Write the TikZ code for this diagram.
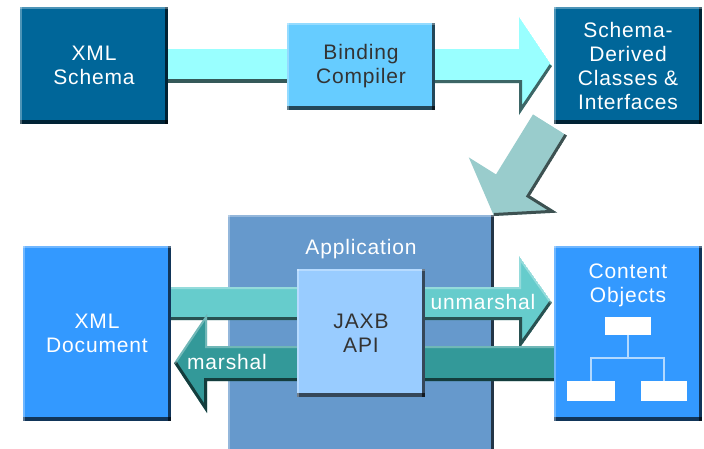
\documentclass[tikz,border=0pt]{standalone}
\usepackage{fontspec}
\setmainfont{Liberation Sans}[LetterSpace=4]
\usetikzlibrary{calc}
\definecolor{dkblue}{HTML}{006699}
\definecolor{bcblue}{HTML}{66CCFF}
\definecolor{appblue}{HTML}{6699CC}
\definecolor{apiblue}{HTML}{99CCFF}
\definecolor{docblue}{HTML}{3399FF}
\definecolor{cyanA}{HTML}{99FFFF}
\definecolor{diagC}{HTML}{99CCCC}
\definecolor{unmC}{HTML}{66CCCC}
\definecolor{marC}{HTML}{339999}
\definecolor{darktext}{HTML}{333333}
\definecolor{treeline}{HTML}{B3D9FF}
\pgfdeclarelayer{lbg}
\pgfdeclarelayer{lzero}
\pgfdeclarelayer{lone}
\pgfdeclarelayer{ltwo}
\pgfsetlayers{lbg,lzero,lone,ltwo,main}
\newcommand\fsz{\fontsize{21}{24}\selectfont}
\tikzset{
  box/.style={rectangle, inner sep=0pt, align=center, font=\fsz, text=white,
    path picture={
      \fill[black,opacity=.65] ([yshift=4pt]path picture bounding box.south west) rectangle (path picture bounding box.south east);
      \fill[black,opacity=.65] ([xshift=-3pt]path picture bounding box.south east) rectangle (path picture bounding box.north east);
      \fill[white,opacity=.3] (path picture bounding box.north west) rectangle ([yshift=-2pt]path picture bounding box.north east);
      \fill[white,opacity=.3] (path picture bounding box.north west) rectangle ([xshift=2pt]path picture bounding box.south west);
    }},
  lab/.style={inner sep=0pt, font=\fsz, text=white},
  shadowline/.style={line width=6pt, black, opacity=.6, line join=miter},
  lightline/.style={line width=4pt, white, opacity=.3},
  treebox/.style={rectangle, fill=white, inner sep=0pt},
  treel/.style={treeline, line width=2pt}
}
\begin{document}
\begin{tikzpicture}[x=1pt,y=-1pt]
\begin{pgfonlayer}{lbg}
\fill[white] (0,0) rectangle (704,448);
\end{pgfonlayer}
\useasboundingbox (0,0) rectangle (704,448);

% top row boxes
\node[box, fill=dkblue, minimum width=148pt, minimum height=117pt] (xs) at (94,65.5) {XML\\Schema};
\node[box, fill=bcblue, text=darktext, minimum width=148pt, minimum height=87pt] (bc) at (361,66.5) {Binding\\Compiler};
\node[box, fill=dkblue, minimum width=148pt, minimum height=117pt] (sd) at (628,65.5) {Schema-\\Derived\\Classes \&\\Interfaces};

% application container
\begin{pgfonlayer}{lone}
\node[box, fill=appblue, minimum width=266pt, minimum height=240pt] (app) at (361,335) {};
\end{pgfonlayer}
\node[lab] (applab) at (361,249) {Application};

\node[box, fill=apiblue, text=darktext, minimum width=128pt, minimum height=128pt] (api) at (361,333) {JAXB\\API};
\node[box, fill=docblue, minimum width=148pt, minimum height=175pt] (xd) at (97,333.5) {XML\\Document};
\node[box, fill=docblue, minimum width=148pt, minimum height=175pt] (co) at (628,333.5) {};
\node[lab, align=center, text=white, font=\fsz] (colab) at (628,285) {Content\\Objects};

% tree inside content objects
\node[treebox, minimum width=46pt, minimum height=18pt] (t0) at (628,326) {};
\node[treebox, minimum width=48pt, minimum height=20pt] (t1) at (591,391) {};
\node[treebox, minimum width=46pt, minimum height=20pt] (t2) at (664,391) {};
\draw[treel] (t0.south) -- ++(0,23) -| (t1.north);
\draw[treel] (t0.south) -- ++(0,23) -| (t2.north);

% top arrows
\begin{pgfonlayer}{ltwo}
\fill[cyanA] (xs.east |- 0,49) rectangle (bc.west |- 0,83);
\fill[black,opacity=.65] (xs.east |- 0,79) rectangle (bc.west |- 0,83);
\begin{scope}
\clip (bc.east |- 0,49) -- (519,49) -- (519,17) -- (552,66) -- (519,115) -- (519,83) -- (bc.east |- 0,83) -- cycle;
\fill[cyanA] (bc.east |- 0,49) -- (519,49) -- (519,17) -- (552,66) -- (519,115) -- (519,83) -- (bc.east |- 0,83) -- cycle;
\draw[shadowline] (bc.east |- 0,83) -- (519,83) -- (519,115) -- (552,66);
\end{scope}

% unmarshal arrow
\begin{scope}
\clip (xd.east |- 0,287) -- (519,287) -- (519,256) -- (552,302.5) -- (519,349) -- (519,320) -- (xd.east |- 0,320) -- cycle;
\fill[unmC] (xd.east |- 0,287) -- (519,287) -- (519,256) -- (552,302.5) -- (519,349) -- (519,320) -- (xd.east |- 0,320) -- cycle;
\draw[shadowline] (xd.east |- 0,320) -- (519,320) -- (519,349) -- (552,302.5);
\draw[lightline] (xd.east |- 0,287) -- (519,287) -- (519,256) -- (552,302.5);
\end{scope}

% marshal arrow
\begin{scope}
\clip (co.west |- 0,346) -- (207,346) -- (207,314) -- (174,363) -- (207,413) -- (207,381) -- (co.west |- 0,381) -- cycle;
\fill[marC] (co.west |- 0,346) -- (207,346) -- (207,314) -- (174,363) -- (207,413) -- (207,381) -- (co.west |- 0,381) -- cycle;
\draw[shadowline] (co.west |- 0,381) -- (207,381) -- (207,413) -- (174,363);
\draw[lightline] (co.west |- 0,346) -- (207,346) -- (207,314) -- (174,363);
\end{scope}
\end{pgfonlayer}
\node[lab] (unm) at (483,302) {unmarshal};
\node[lab] (mar) at (227,362) {marshal};

% diagonal arrow (behind application)
\begin{pgfonlayer}{lzero}
\begin{scope}
\clip (533,114.4) -- (496,174.4) -- (468.8,157.4) -- (494,216) -- (557.2,212.6) -- (530,195.6) -- (567,135.6) -- cycle;
\fill[diagC] (533,114.4) -- (496,174.4) -- (468.8,157.4) -- (494,216) -- (557.2,212.6) -- (530,195.6) -- (567,135.6) -- cycle;
\draw[shadowline] (494,216) -- (557.2,212.6) -- (530,195.6) -- (567,135.6);
\end{scope}
\end{pgfonlayer}
\end{tikzpicture}
\end{document}
